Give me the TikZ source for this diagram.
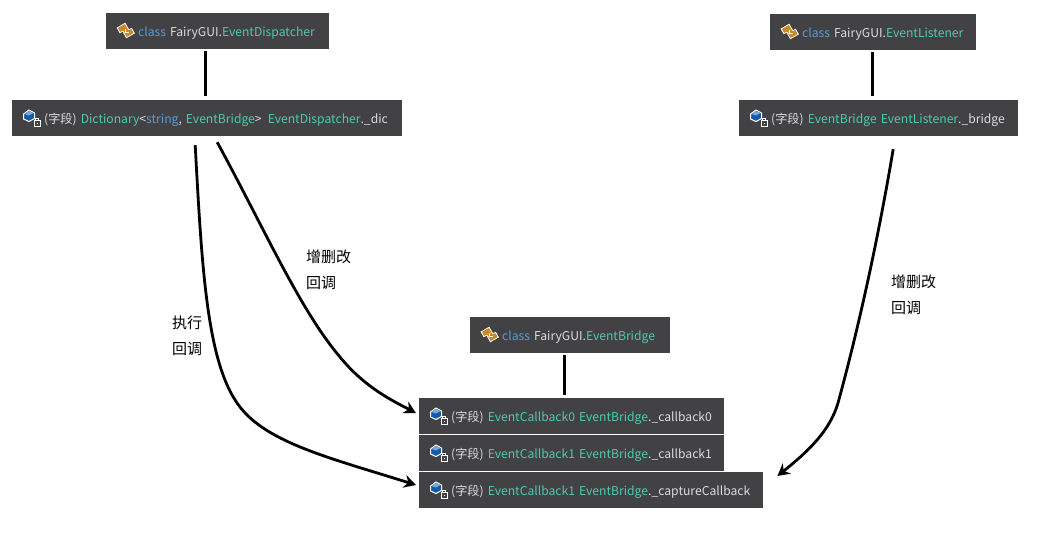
\documentclass[tikz,border=0pt]{standalone}
\usepackage{fontspec}
\setmainfont{Noto Sans CJK SC}
\usepackage{xcolor}
\usepackage{tikz}
\usetikzlibrary{arrows.meta}
\definecolor{boxgray}{RGB}{66, 66, 69}
\definecolor{kwblue}{RGB}{86, 156, 214}
\definecolor{typeteal}{RGB}{78, 201, 176}
\definecolor{plainlight}{RGB}{220, 220, 220}
\definecolor{iconblue}{RGB}{20, 90, 170}
\definecolor{iconorange}{RGB}{205, 135, 40}
\newcommand{\kw}[1]{\textcolor{kwblue}{#1}}
\newcommand{\ty}[1]{\textcolor{typeteal}{#1}}
\newcommand{\fld}{(字段) }
\tikzset{
	infobox/.style={fill=boxgray, text=plainlight, anchor=west, minimum height=36pt, text width=#1, text height=11pt, text depth=1pt, inner xsep=0pt, align=left, font=\fontsize{12.15}{15}\selectfont},
	wire/.style={line width=3pt, black},
	callback/.style={line width=2.8pt, black, -{Stealth[length=12pt, width=13pt]}},
	note/.style={anchor=west, inner sep=0pt, align=left, font=\fontsize{15}{26}\selectfont},
	fieldicon/.pic={
		\fill[iconblue, draw=white, line width=1pt] (-8.5,-4) -- (-3,-8) -- (2.5,-5) -- (2.5,0.5) -- (-3,3.5) -- (-8.5,1) -- cycle;
		\fill[white!45!iconblue] (-7.5,-4) -- (-3,-7) -- (1.5,-5) -- (-3,-2.5) -- cycle;
		\fill[boxgray, draw=white, line width=1pt] (2,2) rectangle (8,8);
		\draw[white, line width=0.8pt] (3.5,2) -- (3.5,0.5) -- (6.5,0.5) -- (6.5,2);
		\fill[white] (4.5,4.5) rectangle (5.5,5.5);
	},
	classicon/.pic={
		\foreach \cx/\cy/\ang in {-3.5/-3/30, 3/2/30, 0/-0.5/-50}
			\fill[white, rotate around={\ang:(\cx,\cy)}] (\cx-5,\cy-3.2) rectangle (\cx+5,\cy+3.2);
		\foreach \cx/\cy/\ang in {-3.5/-3/30, 3/2/30, 0/-0.5/-50}
			\fill[iconorange, rotate around={\ang:(\cx,\cy)}] (\cx-4,\cy-2.3) rectangle (\cx+4,\cy+2.3);
		\draw[white, line width=0.9pt] (-0.5,-2) -- (-0.5,1.5) -- (2.5,1.5);
	},
}
\begin{document}
\begin{tikzpicture}[x=1pt, y=-1pt]
	\useasboundingbox (0,0) rectangle (1039,538);

	% top left
	\node[infobox=223pt] (dispatcher) at (106,31) {\hspace*{32pt}\kw{class} FairyGUI.\ty{EventDispatcher}};
	\node[infobox=390pt] (dic) at (12,118) {\hspace*{32pt}\fld\ty{Dictionary}<\kw{string}, \ty{EventBridge}>\, \ty{EventDispatcher}.\_dic};

	% top right
	\node[infobox=206pt] (listener) at (770,32) {\hspace*{32pt}\kw{class} FairyGUI.\ty{EventListener}};
	\node[infobox=279pt] (bridge) at (739,118) {\hspace*{32pt}\fld\ty{EventBridge} \ty{EventListener}.\_bridge};

	% bottom
	\node[infobox=200pt] (bridgeclass) at (470,335) {\hspace*{32pt}\kw{class} FairyGUI.\ty{EventBridge}};
	\node[infobox=305pt] (callback0) at (419,416) {\hspace*{32pt}\fld\ty{EventCallback0} \ty{EventBridge}.\_callback0};
	\node[infobox=305pt] (callback1) at (419,453) {\hspace*{32pt}\fld\ty{EventCallback1} \ty{EventBridge}.\_callback1};
	\node[infobox=344pt] (capture) at (419,490) {\hspace*{32pt}\fld\ty{EventCallback1} \ty{EventBridge}.\_captureCallback};

	% icons
	\pic at ([xshift=20pt]dispatcher.west) {classicon};
	\pic at ([xshift=20pt]listener.west) {classicon};
	\pic at ([xshift=20pt]bridgeclass.west) {classicon};
	\pic at ([xshift=20pt]dic.west) {fieldicon};
	\pic at ([xshift=20pt]bridge.west) {fieldicon};
	\pic at ([xshift=20pt]callback0.west) {fieldicon};
	\pic at ([xshift=20pt]callback1.west) {fieldicon};
	\pic at ([xshift=20pt]capture.west) {fieldicon};

	% owner lines
	\draw[wire] ([xshift=-12.5pt, yshift=-2pt]dispatcher.south) -- ([xshift=-2pt, yshift=4pt]dic.north);
	\draw[wire] ([xshift=-1pt, yshift=-2pt]listener.south) -- ([xshift=-6.5pt, yshift=4pt]bridge.north);
	\draw[wire] ([xshift=-6pt, yshift=-2pt]bridgeclass.south) -- ([xshift=-7.5pt, yshift=3pt]callback0.north);

	% callbacks
	\draw[callback] ([xshift=-12pt, yshift=-9pt]dic.south) .. controls (202,270) and (207,365) .. (240,407)
		.. controls (268,443) and (330,458) .. ([xshift=-3pt, yshift=5pt]capture.west);
	\draw[callback] ([xshift=10pt, yshift=-6pt]dic.south) .. controls (265,230) and (300,310) .. (340,357)
		.. controls (365,388) and (395,402) .. ([xshift=-3pt, yshift=3pt]callback0.west);
	\draw[callback] ([xshift=14.5pt, yshift=-13pt]bridge.south) .. controls (878,240) and (858,330) .. (838,403)
		.. controls (830,430) and (810,450) .. ([xshift=14pt, yshift=14pt]capture.east);

	% notes
	\node[note] (addnote) at (306,270) {增删改\\回调};
	\node[note] (runnote) at (172,336) {执行\\回调};
	\node[note] (listennote) at (891,295) {增删改\\回调};
\end{tikzpicture}
\end{document}
